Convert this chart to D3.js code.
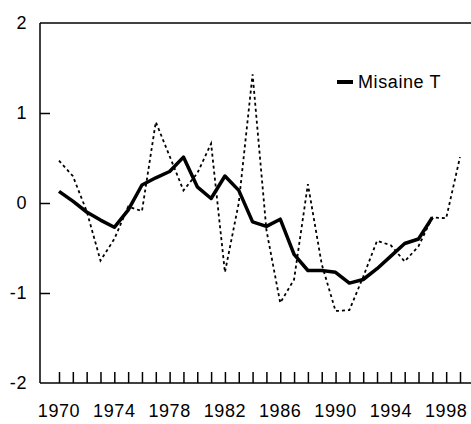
<!DOCTYPE html>
<html>
<head>
<meta charset="utf-8">
<script src="https://cdn.jsdelivr.net/npm/d3@7"></script>
<style>
  html, body { margin: 0; padding: 0; background: #fff; }
  svg { display: block; }
  text { font-family: "Liberation Sans", Arial, sans-serif; fill: #000; letter-spacing: 0.6px; }
</style>
</head>
<body>
<svg id="chart" width="471" height="424"></svg>
<script>
const years = d3.range(1970, 2000);
const annual = [0.47, 0.30, -0.09, -0.64, -0.40, -0.04, -0.09, 0.90, 0.52, 0.14,
                0.33, 0.66, -0.77, 0.00, 1.43, -0.30, -1.11, -0.85, 0.21, -0.68,
                -1.20, -1.19, -0.82, -0.42, -0.47, -0.65, -0.48, -0.16, -0.17, 0.51];
const smoothYears = d3.range(1970, 1998);
const smooth = [0.13, 0.02, -0.10, -0.19, -0.27, -0.08, 0.20, 0.28, 0.35, 0.51,
                0.18, 0.05, 0.30, 0.14, -0.21, -0.26, -0.18, -0.57, -0.75, -0.75,
                -0.77, -0.89, -0.85, -0.73, -0.59, -0.45, -0.40, -0.16];
const yTicks = [-2, -1, 0, 1, 2];
const xLabels = [1970, 1974, 1978, 1982, 1986, 1990, 1994, 1998];
const seriesName = "Misaine T";

const svg = d3.select("#chart");
const mLeft = 40, mRight = 471, mTop = 23, mBottom = 383;

const x = d3.scaleLinear().domain([1970, 1999]).range([59, 460]);
const y = d3.scaleLinear().domain([-2, 2]).range([mBottom, mTop]);

// frame lines
const g = svg.append("g");
g.append("line").attr("x1", mLeft).attr("x2", mRight).attr("y1", mTop).attr("y2", mTop)
  .attr("stroke", "#000").attr("stroke-width", 1.5);
g.append("line").attr("x1", mLeft).attr("x2", mRight).attr("y1", mBottom).attr("y2", mBottom)
  .attr("stroke", "#000").attr("stroke-width", 1.5);
g.append("line").attr("x1", mLeft).attr("x2", mLeft).attr("y1", mTop).attr("y2", mBottom)
  .attr("stroke", "#000").attr("stroke-width", 1.5);

// y axis
const yAxis = d3.axisRight(y).tickValues(yTicks.filter(v => v > -2 && v < 2))
  .tickSize(10).tickFormat("");
svg.append("g").attr("transform", `translate(${mLeft},0)`).call(yAxis)
  .call(a => a.select(".domain").remove())
  .call(a => a.selectAll("line").attr("stroke", "#000").attr("stroke-width", 1.5));
svg.append("g").selectAll("text").data(yTicks).join("text")
  .attr("x", 27).attr("y", d => y(d)).attr("dy", "0.35em")
  .attr("text-anchor", "end").attr("font-size", 18).text(d => d);

// x axis ticks (upward)
const xAxis = d3.axisTop(x).tickValues(years).tickSize(11).tickFormat("");
svg.append("g").attr("transform", `translate(0,${mBottom})`).call(xAxis)
  .call(a => a.select(".domain").remove())
  .call(a => a.selectAll("line").attr("stroke", "#000").attr("stroke-width", 1.5));
svg.append("g").selectAll("text").data(xLabels).join("text")
  .attr("x", d => x(d)).attr("y", 417)
  .attr("text-anchor", "middle").attr("font-size", 18).text(d => d);

// annual dotted line
const line = d3.line().x(d => x(d[0])).y(d => y(d[1]));
svg.append("path").datum(years.map((yr, i) => [yr, annual[i]]))
  .attr("d", line).attr("fill", "none").attr("stroke", "#000")
  .attr("stroke-width", 1.8).attr("stroke-dasharray", "3,3");

// smoothed line
svg.append("path").datum(smoothYears.map((yr, i) => [yr, smooth[i]]))
  .attr("d", line).attr("fill", "none").attr("stroke", "#000")
  .attr("stroke-width", 3.5).attr("stroke-linejoin", "round");

// legend
const lg = svg.append("g");
lg.append("line").attr("x1", 337).attr("x2", 353).attr("y1", 82).attr("y2", 82)
  .attr("stroke", "#000").attr("stroke-width", 4);
lg.append("text").attr("x", 358).attr("y", 88).attr("font-size", 18).text(seriesName);
</script>
</body>
</html>
